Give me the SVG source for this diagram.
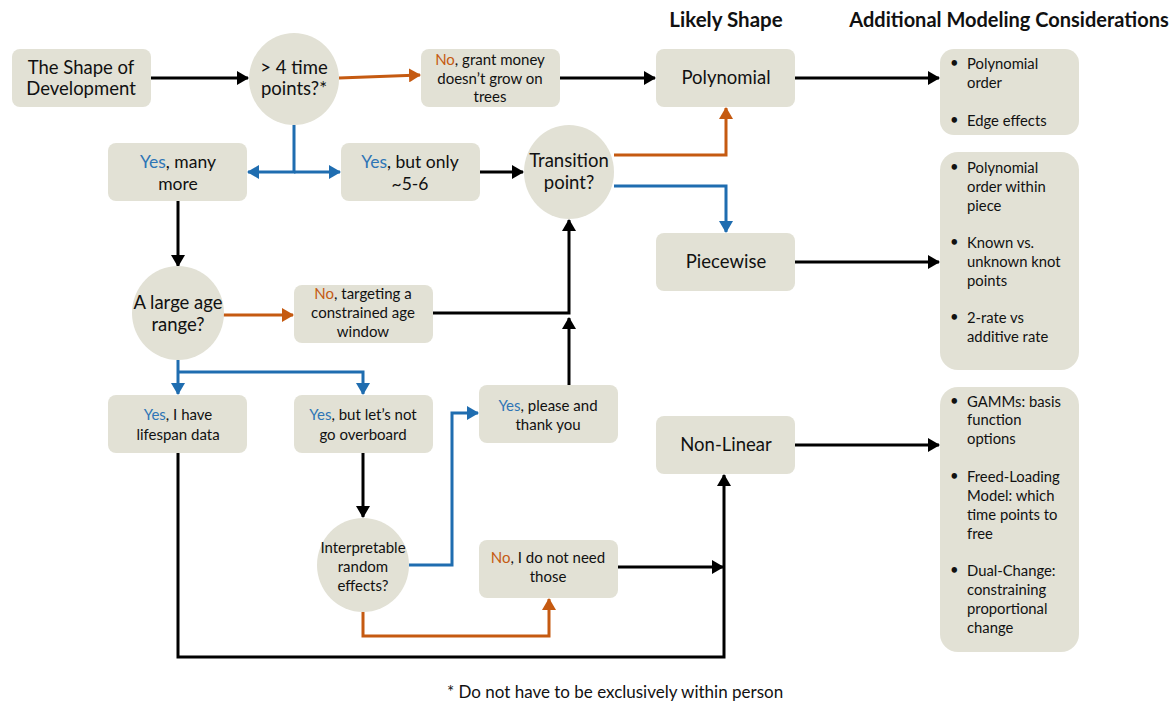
<svg xmlns="http://www.w3.org/2000/svg" width="1176" height="703" viewBox="0 0 1176 703">
<style>
.n{fill:#e2e1d5}
.t{font-family:Lato,"Open Sans",sans-serif;font-size:15px;fill:#111;text-anchor:middle}
.L{font-size:18.5px}
.M{font-size:17.5px}
.F{font-size:17px}
.s{font-family:Lato,"Open Sans",sans-serif;font-size:14.8px;fill:#111}
.h{font-family:Lato,"Open Sans",sans-serif;font-size:20.5px;font-weight:bold;fill:#111;text-anchor:middle}
.h2{font-size:20px}
.y{fill:#2e75b6}
.o{fill:#c55a11}
.k{fill:none;stroke:#000;stroke-width:3}
.b{fill:none;stroke:#1f6db0;stroke-width:3}
.r{fill:none;stroke:#c55a11;stroke-width:3}
</style>
<defs>
<marker id="ak" markerUnits="userSpaceOnUse" markerWidth="12" markerHeight="14" refX="11" refY="7" orient="auto"><path d="M0,0 L12,7 L0,14 Z" fill="#000"/></marker>
<marker id="ab" markerUnits="userSpaceOnUse" markerWidth="12" markerHeight="14" refX="11" refY="7" orient="auto"><path d="M0,0 L12,7 L0,14 Z" fill="#1f6db0"/></marker>
<marker id="ar" markerUnits="userSpaceOnUse" markerWidth="12" markerHeight="14" refX="11" refY="7" orient="auto"><path d="M0,0 L12,7 L0,14 Z" fill="#c55a11"/></marker>
</defs>

<text class="h" x="726" y="27">Likely Shape</text>
<text class="h h2" x="1009" y="27">Additional Modeling Considerations</text>

<g id="connectors">
<path class="k" d="M151,78 L248,78" marker-end="url(#ak)"/>
<path class="r" d="M339,78 L420,75" marker-end="url(#ar)"/>
<path class="k" d="M560,78 L655,78" marker-end="url(#ak)"/>
<path class="k" d="M795,78 L939,78" marker-end="url(#ak)"/>
<path class="b" d="M294,125 L294,172 L248,172" marker-end="url(#ab)"/>
<path class="b" d="M294,172 L340,172" marker-end="url(#ab)"/>
<path class="k" d="M480,172 L523,172" marker-end="url(#ak)"/>
<path class="r" d="M614,155 L726,155 L726,108" marker-end="url(#ar)"/>
<path class="b" d="M614,186 L726,186 L726,232" marker-end="url(#ab)"/>
<path class="k" d="M795,262 L939,262" marker-end="url(#ak)"/>
<path class="k" d="M178,201 L178,266" marker-end="url(#ak)"/>
<path class="r" d="M223,315 L293,315" marker-end="url(#ar)"/>
<path class="k" d="M433,313 L569,313 L569,220" marker-end="url(#ak)"/>
<path class="k" d="M569,385 L569,318" marker-end="url(#ak)"/>
<path class="b" d="M178,360 L178,394" marker-end="url(#ab)"/>
<path class="b" d="M178,372 L363,372 L363,394" marker-end="url(#ab)"/>
<path class="k" d="M363,453 L363,517" marker-end="url(#ak)"/>
<path class="b" d="M409,565 L452,565 L452,413 L478,413" marker-end="url(#ab)"/>
<path class="r" d="M363,612 L363,636 L549,636 L549,599" marker-end="url(#ar)"/>
<path class="k" d="M618,567 L723,567" marker-end="url(#ak)"/>
<path class="k" d="M178,453 L178,657 L724,657 L724,475" marker-end="url(#ak)"/>
<path class="k" d="M795,445 L939,445" marker-end="url(#ak)"/>
</g>

<g id="start"><rect class="n" x="12" y="49" width="139" height="58" rx="8"/>
<text class="t L" x="81" y="74">The Shape of</text><text class="t L" x="81" y="95">Development</text></g>

<g id="q_time"><ellipse class="n" cx="294" cy="79" rx="45" ry="46"/>
<text class="t L" x="294" y="74">&gt; 4 time</text><text class="t L" x="294" y="95">points?*</text></g>

<g id="no_grant"><rect class="n" x="421" y="49" width="139" height="58" rx="8"/>
<text class="t" x="490" y="65"><tspan class="o">No</tspan>, grant money</text>
<text class="t" x="490" y="84">doesn’t grow on</text>
<text class="t" x="490" y="102">trees</text></g>

<g id="polynomial"><rect class="n" x="656" y="49" width="139" height="58" rx="8"/>
<text class="t L" x="726" y="84">Polynomial</text></g>

<g id="cons1"><rect class="n" x="940" y="49" width="139" height="86" rx="14"/>
<text class="s" x="950" y="68">•</text><text class="s" x="967" y="69">Polynomial</text>
<text class="s" x="967" y="88">order</text>
<text class="s" x="950" y="125">•</text><text class="s" x="967" y="126">Edge effects</text></g>

<g id="yes_many"><rect class="n" x="108" y="143" width="139" height="58" rx="8"/>
<text class="t M" x="178" y="168"><tspan class="y">Yes</tspan>, many</text>
<text class="t M" x="178" y="190">more</text></g>

<g id="yes_only"><rect class="n" x="341" y="143" width="139" height="58" rx="8"/>
<text class="t M" x="410" y="168"><tspan class="y">Yes</tspan>, but only</text>
<text class="t M" x="410" y="190">~5-6</text></g>

<g id="q_transition"><ellipse class="n" cx="569" cy="172" rx="45" ry="47"/>
<text class="t L" x="569" y="167">Transition</text><text class="t L" x="569" y="189">point?</text></g>

<g id="piecewise"><rect class="n" x="656" y="233" width="139" height="58" rx="8"/>
<text class="t L" x="726" y="268">Piecewise</text></g>

<g id="cons2"><rect class="n" x="940" y="152" width="139" height="218" rx="18"/>
<text class="s" x="950" y="172">•</text><text class="s" x="967" y="173">Polynomial</text>
<text class="s" x="967" y="192">order within</text>
<text class="s" x="967" y="211">piece</text>
<text class="s" x="950" y="247">•</text><text class="s" x="967" y="248">Known vs.</text>
<text class="s" x="967" y="267">unknown knot</text>
<text class="s" x="967" y="286">points</text>
<text class="s" x="950" y="322">•</text><text class="s" x="967" y="323">2-rate  vs</text>
<text class="s" x="967" y="342">additive rate</text></g>

<g id="q_age"><ellipse class="n" cx="178" cy="313" rx="46" ry="47"/>
<text class="t L" x="178" y="309">A large age</text><text class="t L" x="178" y="331">range?</text></g>

<g id="no_target"><rect class="n" x="294" y="285" width="139" height="58" rx="8"/>
<text class="t" x="363" y="299"><tspan class="o">No</tspan>, targeting a</text>
<text class="t" x="363" y="318">constrained age</text>
<text class="t" x="363" y="337">window</text></g>

<g id="yes_lifespan"><rect class="n" x="108" y="395" width="139" height="58" rx="8"/>
<text class="t" x="178" y="420"><tspan class="y">Yes</tspan>, I have</text>
<text class="t" x="178" y="440">lifespan data</text></g>

<g id="yes_overboard"><rect class="n" x="294" y="395" width="139" height="58" rx="8"/>
<text class="t" x="363" y="420"><tspan class="y">Yes</tspan>, but let’s not</text>
<text class="t" x="363" y="440">go overboard</text></g>

<g id="yes_please"><rect class="n" x="479" y="385" width="139" height="58" rx="8"/>
<text class="t" x="548" y="411"><tspan class="y">Yes</tspan>, please and</text>
<text class="t" x="548" y="430">thank you</text></g>

<g id="nonlinear"><rect class="n" x="656" y="416" width="139" height="58" rx="8"/>
<text class="t L" x="726" y="451">Non-Linear</text></g>

<g id="cons3"><rect class="n" x="940" y="387" width="139" height="265" rx="18"/>
<text class="s" x="950" y="406">•</text><text class="s" x="967" y="407">GAMMs: basis</text>
<text class="s" x="967" y="425">function</text>
<text class="s" x="967" y="444">options</text>
<text class="s" x="950" y="481">•</text><text class="s" x="967" y="482">Freed-Loading</text>
<text class="s" x="967" y="501">Model: which</text>
<text class="s" x="967" y="520">time points to</text>
<text class="s" x="967" y="539">free</text>
<text class="s" x="950" y="575">•</text><text class="s" x="967" y="576">Dual-Change:</text>
<text class="s" x="967" y="595">constraining</text>
<text class="s" x="967" y="614">proportional</text>
<text class="s" x="967" y="633">change</text></g>

<g id="q_random"><ellipse class="n" cx="363" cy="565" rx="46" ry="47"/>
<text class="t" x="363" y="553">Interpretable</text>
<text class="t" x="363" y="572">random</text>
<text class="t" x="363" y="591">effects?</text></g>

<g id="no_need"><rect class="n" x="479" y="540" width="139" height="58" rx="8"/>
<text class="t" x="548" y="563"><tspan class="o">No</tspan>, I do not need</text>
<text class="t" x="548" y="582">those</text></g>

<text class="t F" x="615" y="698">* Do not have to be exclusively within person</text>
</svg>
